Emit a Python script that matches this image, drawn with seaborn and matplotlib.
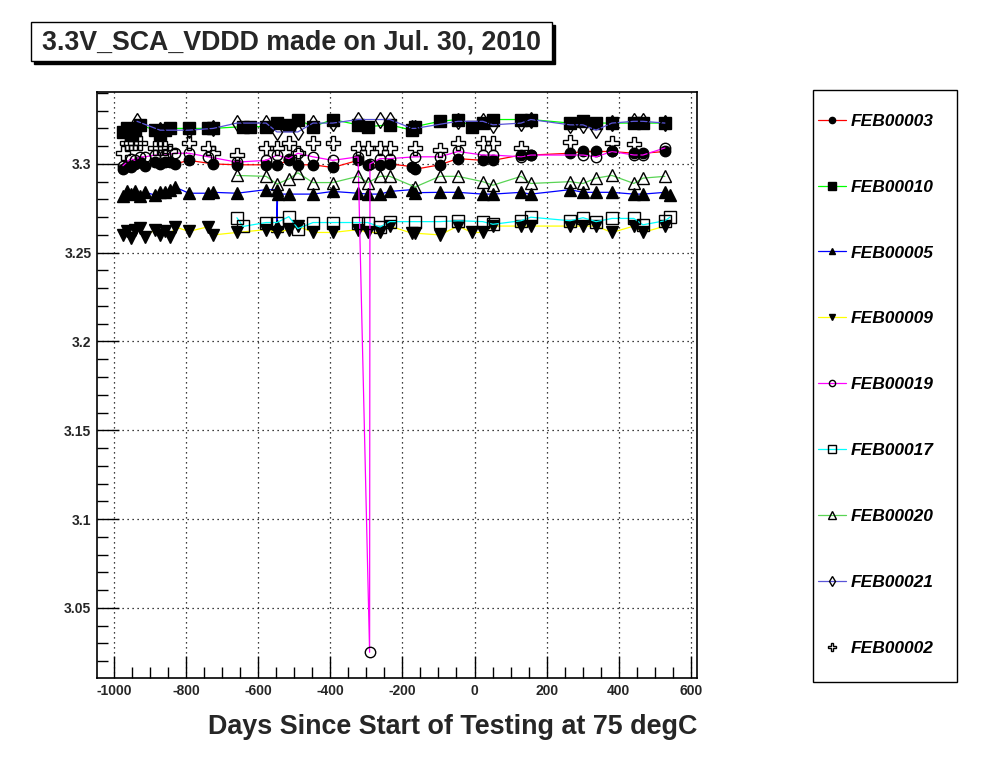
import numpy as np
import pandas as pd
import matplotlib
matplotlib.use("Agg")
import matplotlib.pyplot as plt
import seaborn as sns
from matplotlib.patches import Rectangle
from matplotlib.ticker import MultipleLocator

sns.set_style("white")
plt.rcParams["font.family"] = ["Liberation Sans", "DejaVu Sans"]
plt.rcParams["axes.unicode_minus"] = False

# ----------------------------
# data (days since start, voltage)
# ----------------------------
boards = ["FEB00003", "FEB00010", "FEB00005", "FEB00009", "FEB00019",
          "FEB00017", "FEB00020", "FEB00021", "FEB00002"]

x03 = [-975, -964, -953, -942, -928, -914, -886, -872, -859, -845, -831, -792, -725, -659,
       -578, -548, -515, -490, -448, -393, -323, -296, -262, -235, -174, -165, -96, -46,
       23, 51, 129, 156, 265, 301, 337, 381, 442, 467, 528]
y03 = [3.297, 3.299, 3.298, 3.300, 3.301, 3.299, 3.301, 3.300, 3.301, 3.301, 3.300, 3.302,
       3.300, 3.2995, 3.2995, 3.2995, 3.302, 3.2995, 3.2995, 3.298, 3.302, 3.2995, 3.2995,
       3.300, 3.2985, 3.297, 3.2995, 3.303, 3.302, 3.302, 3.305, 3.305, 3.306, 3.307, 3.307,
       3.307, 3.306, 3.306, 3.307]

x10 = [-975, -964, -953, -942, -928, -886, -872, -859, -845, -792, -739, -725, -642, -623,
       -578, -548, -515, -490, -448, -393, -323, -296, -235, -174, -165, -96, -46, -7,
       23, 51, 129, 156, 265, 301, 337, 381, 442, 467, 528]
y10 = [3.318, 3.320, 3.317, 3.319, 3.322, 3.319, 3.317, 3.319, 3.320, 3.320, 3.320, 3.320,
       3.321, 3.321, 3.321, 3.323, 3.322, 3.325, 3.321, 3.325, 3.322, 3.321, 3.322, 3.319,
       3.321, 3.324, 3.325, 3.321, 3.323, 3.325, 3.325, 3.325, 3.323, 3.324, 3.323, 3.323,
       3.323, 3.323, 3.323]

x05 = [-975, -964, -953, -942, -928, -914, -886, -872, -859, -845, -831, -792, -739, -725,
       -659, -578, -548, -548, -546, -515, -448, -393, -323, -296, -262, -235, -174, -165,
       -96, -46, 23, 51, 129, 156, 265, 301, 337, 381, 442, 467, 528, 542]
y05 = [3.282, 3.285, 3.283, 3.2845, 3.282, 3.284, 3.2825, 3.284, 3.284, 3.2855, 3.287,
       3.2835, 3.2835, 3.284, 3.2835, 3.2855, 3.2855, 3.265, 3.283, 3.283, 3.283, 3.2845,
       3.2835, 3.283, 3.283, 3.2845, 3.2855, 3.2838, 3.284, 3.284, 3.283, 3.283, 3.284,
       3.283, 3.2855, 3.284, 3.284, 3.284, 3.283, 3.283, 3.284, 3.2826]

x09 = [-975, -964, -953, -942, -928, -914, -886, -872, -859, -845, -831, -792, -739, -725,
       -659, -578, -548, -515, -490, -448, -393, -323, -296, -262, -235, -174, -165, -96,
       -46, -7, 23, 51, 129, 156, 265, 301, 337, 381, 442, 467, 528]
y09 = [3.260, 3.262, 3.258, 3.263, 3.264, 3.259, 3.263, 3.260, 3.262, 3.259, 3.2646, 3.262,
       3.2646, 3.260, 3.2614, 3.263, 3.2614, 3.263, 3.265, 3.2614, 3.2614, 3.263, 3.2614,
       3.2614, 3.265, 3.261, 3.261, 3.260, 3.265, 3.2614, 3.2614, 3.265, 3.265, 3.265,
       3.265, 3.265, 3.265, 3.2614, 3.265, 3.2614, 3.265]

x19 = [-975, -953, -942, -928, -914, -886, -859, -831, -792, -739, -659, -578, -548, -515,
       -490, -448, -393, -323, -291, -290, -262, -235, -165, -96, -46, 23, 51, 129, 156,
       301, 337, 381, 442, 467, 528]
y19 = [3.299, 3.303, 3.302, 3.304, 3.304, 3.305, 3.305, 3.306, 3.306, 3.304, 3.301, 3.302,
       3.305, 3.303, 3.306, 3.304, 3.302, 3.304, 3.025, 3.300, 3.303, 3.303, 3.304, 3.304,
       3.307, 3.305, 3.305, 3.304, 3.305, 3.305, 3.304, 3.307, 3.305, 3.305, 3.309]

x17 = [-659, -642, -578, -548, -515, -490, -448, -393, -323, -296, -262, -235, -165, -96,
       -46, 23, 51, 129, 156, 265, 301, 337, 381, 442, 467, 528, 542]
y17 = [3.2697, 3.2648, 3.267, 3.267, 3.2703, 3.2636, 3.267, 3.267, 3.267, 3.267, 3.2645,
       3.2675, 3.2675, 3.2675, 3.268, 3.2675, 3.266, 3.268, 3.270, 3.268, 3.2697, 3.2675,
       3.2693, 3.2693, 3.2657, 3.268, 3.270]

x20 = [-659, -578, -548, -515, -490, -448, -393, -323, -296, -262, -235, -165, -96, -46,
       23, 51, 129, 156, 265, 301, 337, 381, 442, 467, 528]
y20 = [3.2935, 3.293, 3.2887, 3.2915, 3.295, 3.2895, 3.2895, 3.293, 3.2895, 3.293, 3.293,
       3.287, 3.293, 3.293, 3.290, 3.288, 3.293, 3.289, 3.290, 3.289, 3.292, 3.2935, 3.289,
       3.292, 3.293]

x21 = [-936, -872, -792, -725, -659, -578, -548, -490, -448, -393, -323, -262, -235, -174,
       -165, -46, 23, 51, 129, 156, 265, 301, 337, 381, 442, 467, 528]
y21 = [3.324, 3.319, 3.319, 3.320, 3.323, 3.323, 3.318, 3.318, 3.323, 3.323, 3.325, 3.325,
       3.325, 3.320, 3.320, 3.324, 3.324, 3.322, 3.323, 3.325, 3.322, 3.322, 3.319, 3.323,
       3.324, 3.324, 3.323]

x02 = [-975, -964, -953, -942, -928, -886, -872, -859, -845, -792, -739, -725, -659, -578,
       -548, -515, -490, -448, -393, -323, -296, -262, -235, -165, -96, -46, 23, 51, 129,
       265, 381, 442]
y02 = [3.306, 3.312, 3.312, 3.312, 3.312, 3.309, 3.309, 3.309, 3.307, 3.312, 3.309, 3.306,
       3.305, 3.309, 3.309, 3.312, 3.306, 3.312, 3.312, 3.309, 3.309, 3.309, 3.309, 3.309,
       3.308, 3.312, 3.312, 3.312, 3.309, 3.3125, 3.312, 3.311]

days = [x03, x10, x05, x09, x19, x17, x20, x21, x02]
volts = [y03, y10, y05, y09, y19, y17, y20, y21, y02]

# ROOT-like styles
line_colors = ["#ff0000", "#00ff00", "#0000ff", "#ffff00", "#ff00ff",
               "#00ffff", "#59d454", "#5954d8", "none"]
markers = ["o", "s", "^", "v", "o", "s", "^", "d", "P"]
filled = [True, True, True, True, False, False, False, False, False]
msizes = [7.5, 8.5, 8, 8, 7.5, 8.5, 8.5, 8.5, 9.5]

# ----------------------------
# figure
# ----------------------------
fig = plt.figure(figsize=(9.96, 7.72), dpi=100)
W, H = 996.0, 772.0
ax = fig.add_axes([97 / W, 1 - 678 / H, 600 / W, 586 / H])

for name, xs, ys, lc, mk, fl, ms in zip(boards, days, volts, line_colors, markers, filled, msizes):
    df = pd.DataFrame({"day": xs, "volt": ys})
    sns.lineplot(data=df, x="day", y="volt", ax=ax, sort=False, estimator=None,
                 color=lc if lc != "none" else "black",
                 linestyle="-" if lc != "none" else "None", lw=0.9,
                 marker=mk, markersize=ms,
                 markerfacecolor="black" if fl else "none",
                 markeredgecolor="black", markeredgewidth=1.0, label=name)

if ax.get_legend() is not None:
    ax.get_legend().remove()

ax.set_xlim(-1047, 617)
ax.set_ylim(3.0105, 3.3405)
ax.set_xlabel("")
ax.set_ylabel("")

ax.xaxis.set_major_locator(MultipleLocator(200))
ax.xaxis.set_minor_locator(MultipleLocator(50))
ax.yaxis.set_major_locator(MultipleLocator(0.05))
ax.yaxis.set_minor_locator(MultipleLocator(0.01))
ax.set_yticks([3.05, 3.1, 3.15, 3.2, 3.25, 3.3])
ax.set_yticklabels(["3.05", "3.1", "3.15", "3.2", "3.25", "3.3"])
ax.tick_params(which="major", direction="in", length=16, width=1, color="black",
               labelsize=10, pad=4, bottom=True, left=True, top=False, right=False)
ax.tick_params(which="minor", direction="in", length=8, width=1, color="black",
               bottom=True, left=True, top=False, right=False)
for lab in ax.get_xticklabels() + ax.get_yticklabels():
    lab.set_fontweight("bold")

ax.grid(True, which="major", linestyle=(0, (1, 3)), color="black", lw=0.9)
for sp in ax.spines.values():
    sp.set_visible(True)
    sp.set_color("black")
    sp.set_linewidth(1.2)

# title box with shadow
fig.patches.append(Rectangle((34 / W, 1 - 64 / H), 521 / W, 39 / H, transform=fig.transFigure,
                             facecolor="black", edgecolor="black", lw=1, zorder=1))
fig.patches.append(Rectangle((31 / W, 1 - 61 / H), 521 / W, 39 / H, transform=fig.transFigure,
                             facecolor="white", edgecolor="black", lw=1, zorder=2))
fig.text(291 / W, 1 - 42 / H, "3.3V_SCA_VDDD made on Jul. 30, 2010", ha="center", va="center",
         fontsize=19.3, fontweight="bold", zorder=3)

# x axis title
fig.text(697 / W, 1 - 727 / H, "Days Since Start of Testing at 75 degC", ha="right", va="center",
         fontsize=19.4, fontweight="bold")

# legend panel
fig.patches.append(Rectangle((813 / W, 1 - 682 / H), 144 / W, 592 / H, transform=fig.transFigure,
                             facecolor="white", edgecolor="black", lw=1))
handles, labels = ax.get_legend_handles_labels()
leg = fig.legend(handles, labels, loc="upper left", bbox_to_anchor=(809 / W, 1 - 105 / H),
                 frameon=False, markerscale=0.6, handlelength=1.65, handletextpad=0.25,
                 labelspacing=2.92, borderpad=0.0,
                 prop={"weight": "bold", "style": "italic", "size": 12.5})
for txt in leg.get_texts():
    txt.set_color("black")

fig.savefig("out.png", dpi=100)
